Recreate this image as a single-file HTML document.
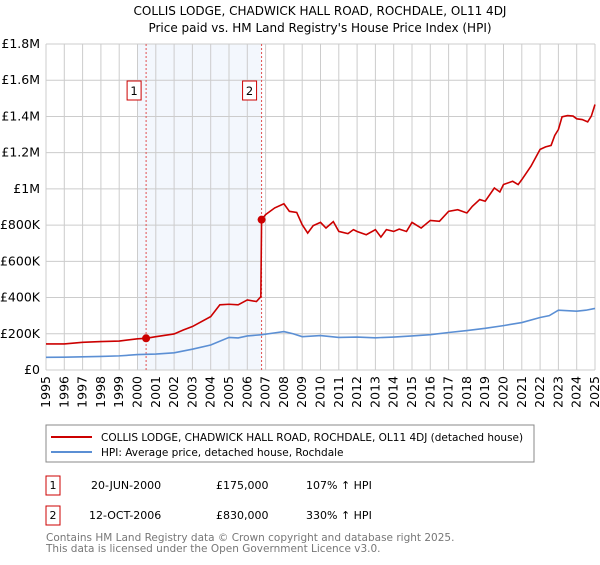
<!DOCTYPE html>
<html><head><meta charset="utf-8"><style>
body{margin:0;background:#fff;font-family:"Liberation Sans","DejaVu Sans",sans-serif;}
svg text{font-family:"DejaVu Sans","Liberation Sans",sans-serif;}
</style></head><body>
<svg id="c" width="600" height="560" xmlns="http://www.w3.org/2000/svg">
<text x="320" y="15" text-anchor="middle" font-size="12">COLLIS LODGE, CHADWICK HALL ROAD, ROCHDALE, OL11 4DJ</text>
<text x="320" y="32" text-anchor="middle" font-size="12">Price paid vs. HM Land Registry's House Price Index (HPI)</text>
<g id="grid"></g><g id="marks"></g>
<rect x="46" y="425" width="488" height="37" fill="#fff" stroke="#888"/>
<line x1="51" y1="437" x2="92" y2="437" stroke="#cc0000" stroke-width="2"/>
<text x="101" y="441" font-size="10.5">COLLIS LODGE, CHADWICK HALL ROAD, ROCHDALE, OL11 4DJ (detached house)</text>
<line x1="51" y1="452" x2="92" y2="452" stroke="#5b8fd4" stroke-width="2"/>
<text x="101" y="456" font-size="10.5">HPI: Average price, detached house, Rochdale</text>
<g font-size="11">
<rect x="46" y="476" width="14" height="19" fill="#fff" stroke="#cc0000"/><text x="53" y="489" text-anchor="middle">1</text>
<text x="91" y="489">20-JUN-2000</text><text x="216" y="489">£175,000</text><text x="306" y="489">107% ↑ HPI</text></g>
<g font-size="11">
<rect x="46" y="506" width="14" height="19" fill="#fff" stroke="#cc0000"/><text x="53" y="519" text-anchor="middle">2</text>
<text x="89" y="519">12-OCT-2006</text><text x="216" y="519">£830,000</text><text x="306" y="519">330% ↑ HPI</text></g>
<text x="46" y="541" font-size="10.5" fill="#777">Contains HM Land Registry data © Crown copyright and database right 2025.</text>
<text x="46" y="552" font-size="10.5" fill="#777">This data is licensed under the Open Government Licence v3.0.</text>
</svg>
<script>
const yTicks=[0,200000,400000,600000,800000,1000000,1200000,1400000,1600000,1800000];
const yTickLabels=["£0","£200K","£400K","£600K","£800K","£1M","£1.2M","£1.4M","£1.6M","£1.8M"];
const xYears=[1995,1996,1997,1998,1999,2000,2001,2002,2003,2004,2005,2006,2007,2008,2009,2010,2011,2012,2013,2014,2015,2016,2017,2018,2019,2020,2021,2022,2023,2024,2025];
const saleDates=[2000.47,2006.78];
const salePrices=[175000,830000];
const propYears=[1995,1996,1997,1998,1999,2000,2000.47,2001,2002,2002.5,2003,2004,2004.5,2005,2005.5,2006,2006.5,2006.74,2006.78,2007,2007.5,2008,2008.3,2008.7,2009,2009.3,2009.6,2010,2010.3,2010.7,2011,2011.5,2011.8,2012,2012.5,2013,2013.3,2013.6,2014,2014.3,2014.7,2015,2015.5,2016,2016.5,2017,2017.5,2018,2018.3,2018.7,2019,2019.5,2019.8,2020,2020.5,2020.8,2021,2021.5,2022,2022.3,2022.6,2022.8,2023,2023.2,2023.5,2023.8,2024,2024.3,2024.6,2024.8,2025];
const propValues=[144000,144000,153000,157000,160000,172000,175000,184000,199000,221000,240000,295000,360000,363000,360000,387000,378000,405000,830000,858000,895000,918000,876000,870000,802000,756000,797000,815000,784000,819000,765000,753000,775000,765000,747000,775000,734000,775000,765000,778000,765000,815000,784000,826000,821000,876000,885000,867000,904000,941000,932000,1005000,983000,1024000,1042000,1024000,1051000,1125000,1218000,1232000,1240000,1295000,1328000,1398000,1405000,1402000,1387000,1383000,1370000,1402000,1466000];
const hpiYears=[1995,1996,1997,1998,1999,2000,2001,2002,2003,2004,2005,2005.5,2006,2006.8,2007.5,2008,2008.5,2009,2010,2011,2012,2013,2014,2015,2016,2017,2018,2019,2020,2021,2022,2022.5,2023,2024,2024.5,2025];
const hpiValues=[70000,71000,73000,75000,78000,85000,88000,95000,115000,138000,180000,177000,188000,195000,205000,212000,200000,184000,190000,180000,182000,178000,182000,188000,195000,207000,218000,230000,245000,262000,290000,300000,330000,325000,330000,340000];
const L=46,R=595,T=44,B=370;
const x=y=>L+(y-1995)/30*(R-L);
const yv=v=>B-v/1800000*(B-T);
const NS="http://www.w3.org/2000/svg";
const g=document.getElementById('grid'),m=document.getElementById('marks');
function mk(p,tag,a){const e=document.createElementNS(NS,tag);for(const k in a)e.setAttribute(k,a[k]);p.appendChild(e);return e;}
const sh=mk(g,'rect',{x:x(2000),y:T,width:x(saleDates[1])-x(2000),height:B-T,fill:'#eef3fc',opacity:0.7});


yTicks.forEach((v,i)=>{
 const l=mk(g,'line',{x1:L,x2:R,y1:yv(v),y2:yv(v),stroke:'#ccc'});
 
 
 const t=mk(g,'text',{x:L-6,y:yv(v)+4,'text-anchor':'end','font-size':'12.5'});
 t.textContent=yTickLabels[i];
 
 
});
xYears.forEach(yr=>{
 const l=mk(g,'line',{x1:x(yr),x2:x(yr),y1:T,y2:B,stroke:'#ccc'});
 
 
 const t=mk(g,'text',{x:0,y:0,'text-anchor':'end','font-size':'12.5',transform:`translate(${x(yr)+4},${B+6}) rotate(-90)`});
 t.textContent=yr;
 
 
});
saleDates.forEach((d,i)=>{
 const l=mk(m,'line',{x1:x(d),x2:x(d),y1:T,y2:B,stroke:'#e05050','stroke-dasharray':'2,2'});
 
 
 const r=mk(m,'rect',{x:x(d)-19,y:81,width:14,height:19,fill:'#fff',stroke:'#cc0000'});
 
 
 const t=mk(m,'text',{x:x(d)-12,y:95,'text-anchor':'middle','font-size':'11.5'});
 t.textContent=String(i+1);
 
 
});
const hp=mk(m,'polyline',{points:hpiYears.map((d,i)=>x(d)+','+yv(hpiValues[i])).join(' '),fill:'none',stroke:'#5b8fd4','stroke-width':1.6});


const pp=mk(m,'polyline',{points:propYears.map((d,i)=>x(d)+','+yv(propValues[i])).join(' '),fill:'none',stroke:'#cc0000','stroke-width':1.6});


saleDates.forEach((d,i)=>{
 const c=mk(m,'circle',{cx:x(d),cy:yv(salePrices[i]),r:4,fill:'#cc0000'});
 
 
});
</script>
</body></html>
